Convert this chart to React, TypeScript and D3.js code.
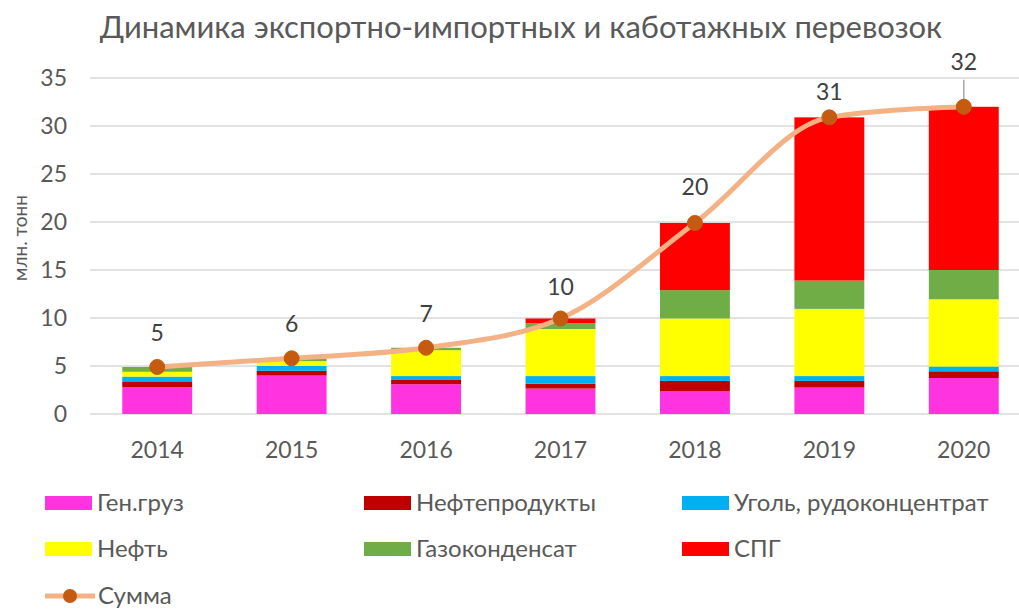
import React from "react";
import * as d3 from "d3";

const years = ["2014", "2015", "2016", "2017", "2018", "2019", "2020"];
const genCargo = [2.8, 4.0, 3.1, 2.65, 2.35, 2.75, 3.75];
const oilProducts = [0.6, 0.5, 0.5, 0.5, 1.1, 0.7, 0.7];
const coal = [0.5, 0.5, 0.35, 0.8, 0.5, 0.5, 0.5];
const oil = [0.5, 0.5, 2.7, 4.9, 6.0, 7.0, 7.0];
const gasCondensate = [0.5, 0.3, 0.25, 0.6, 2.95, 2.95, 3.05];
const lng = [0, 0, 0, 0.5, 7.0, 17.0, 17.0];
const yTicks = [0, 5, 10, 15, 20, 25, 30, 35];

const seriesNames = ["Ген.груз", "Нефтепродукты", "Уголь, рудоконцентрат", "Нефть", "Газоконденсат", "СПГ"];
const seriesValues = [genCargo, oilProducts, coal, oil, gasCondensate, lng];
const seriesColors = ["#FF33E0", "#C00000", "#00B0F0", "#FFFF00", "#70AD47", "#FF0000"];
const sumName = "Сумма";

const W = 1019;
const H = 610;
const FONT = "Lato, 'Open Sans', sans-serif";

export default function App() {
  const x = d3.scaleBand<string>().domain(years).range([90, 1031]).paddingInner(0.48).paddingOuter(0.24);
  const y = d3.scaleLinear().domain([0, 35]).range([414, 78]);

  const table = years.map((yr, i) => {
    const row: any = { year: yr };
    seriesNames.forEach((n, k) => (row[n] = seriesValues[k][i]));
    return row;
  });
  const stacked = d3.stack<any>().keys(seriesNames)(table);
  const sums = years.map((_, i) => d3.sum(seriesValues, (s) => s[i]));

  const cx = (yr: string) => (x(yr) as number) + x.bandwidth() / 2;
  const line = d3
    .line<number>()
    .x((_, i) => cx(years[i]))
    .y((d) => y(d))
    .curve(d3.curveMonotoneX);

  const labelOffset = [34, 34, 34, 32, 36, 25, 45];

  const legendItems = [
    { name: seriesNames[0], color: seriesColors[0], col: 0, row: 0 },
    { name: seriesNames[1], color: seriesColors[1], col: 1, row: 0 },
    { name: seriesNames[2], color: seriesColors[2], col: 2, row: 0 },
    { name: seriesNames[3], color: seriesColors[3], col: 0, row: 1 },
    { name: seriesNames[4], color: seriesColors[4], col: 1, row: 1 },
    { name: seriesNames[5], color: seriesColors[5], col: 2, row: 1 },
  ];
  const colX = [45, 364, 682];
  const rowY = [503, 549, 596];

  return (
    <svg width={W} height={H} style={{ position: "absolute", left: 0, top: 0, background: "#fff" }} fontFamily={FONT}>
      <text x={521} y={38} textAnchor="middle" fontSize={31} fill="#595959">
        Динамика экспортно-импортных и каботажных перевозок
      </text>

      {yTicks.map((t) => (
        <g key={t}>
          <line x1={90} x2={W} y1={y(t)} y2={y(t)} stroke="#D9D9D9" strokeWidth={1.5} />
          <text x={67} y={y(t)} dy="0.35em" textAnchor="end" fontSize={23} fill="#595959">
            {t}
          </text>
        </g>
      ))}

      <text transform={`translate(27,${238}) rotate(-90)`} textAnchor="middle" fontSize={19} fill="#595959">
        млн. тонн
      </text>

      {stacked.map((s, k) => (
        <g key={s.key} fill={seriesColors[k]}>
          {s.map((d, i) =>
            d[1] - d[0] > 0 ? (
              <rect key={i} x={x(years[i])} width={x.bandwidth()} y={y(d[1])} height={y(d[0]) - y(d[1])} />
            ) : null
          )}
        </g>
      ))}

      {years.map((yr) => (
        <text key={yr} x={cx(yr)} y={450} dy="0.35em" textAnchor="middle" fontSize={23} fill="#595959">
          {yr}
        </text>
      ))}

      <path d={line(sums) || ""} fill="none" stroke="#F4B183" strokeWidth={5} strokeLinecap="round" />
      <line
        x1={cx(years[6])}
        x2={cx(years[6])}
        y1={y(sums[6])}
        y2={y(sums[6]) - labelOffset[6] + 18}
        stroke="#A6A6A6"
        strokeWidth={1.5}
      />
      {sums.map((v, i) => (
        <circle key={i} cx={cx(years[i])} cy={y(v)} r={7.5} fill="#C55A11" stroke="#C55A11" />
      ))}
      {sums.map((v, i) => (
        <text
          key={i}
          x={cx(years[i])}
          y={y(v) - labelOffset[i]}
          dy="0.35em"
          textAnchor="middle"
          fontSize={23}
          fill="#404040"
        >
          {d3.format(".0f")(v)}
        </text>
      ))}

      {legendItems.map((it) => (
        <g key={it.name}>
          <rect x={colX[it.col]} y={rowY[it.row] - 7} width={47} height={14} fill={it.color} />
          <text x={colX[it.col] + 52} y={rowY[it.row]} dy="0.35em" fontSize={24} fill="#595959">
            {it.name}
          </text>
        </g>
      ))}
      <g>
        <line x1={45} x2={95} y1={rowY[2]} y2={rowY[2]} stroke="#F4B183" strokeWidth={5} />
        <circle cx={70} cy={rowY[2]} r={7} fill="#C55A11" />
        <text x={98} y={rowY[2]} dy="0.35em" fontSize={24} fill="#595959">
          {sumName}
        </text>
      </g>
    </svg>
  );
}
